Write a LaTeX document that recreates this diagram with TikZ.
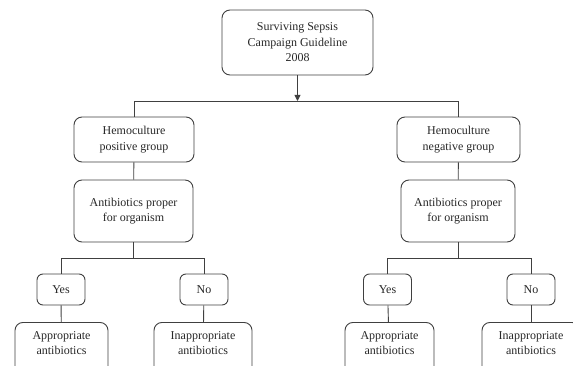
\documentclass[tikz,border=0pt]{standalone}
\usepackage{fontspec}
\setmainfont{Liberation Serif}
\usetikzlibrary{arrows.meta,positioning}
\definecolor{SSline}{RGB}{64,64,64}
\definecolor{SStext}{RGB}{40,40,40}
\tikzset{
  box/.style={rounded corners=8pt,draw=SSline,line width=0.9pt,fill=white,
              text=SStext,align=center,inner sep=0pt,
              font=\fontsize{12}{15.5}\selectfont},
  choice/.style={box,rounded corners=6pt,minimum width=48pt,minimum height=31pt},
  result/.style={box,anchor=north,minimum height=0pt,inner ysep=9pt,
                 text depth=30pt},
  ln/.style={line width=0.9pt,draw=SSline},
  arr/.style={-{Triangle[length=6pt,width=6pt]},line width=0.9pt,draw=SSline}
}

\begin{document}
\begin{tikzpicture}[x=1pt,y=-1pt]
  \useasboundingbox (0,0) rectangle (573,366);
  \clip (0,0) rectangle (573,366);
  % top
  \node[box,minimum width=151pt,minimum height=65pt] (ssc) at (297.5,42.5)
    {Surviving Sepsis\\Campaign Guideline\\2008};
  \coordinate (split) at (297.5,101);
  % two groups
  \node[box,minimum width=120pt,minimum height=45pt] (posgrp) at (134,139.5)
    {Hemoculture\\positive group};
  \node[box,minimum width=123pt,minimum height=45pt] (neggrp) at (458.5,139.5)
    {Hemoculture\\negative group};
  \node[box,minimum width=119pt,minimum height=62pt] (posab) at (133.5,211)
    {Antibiotics proper\\for organism};
  \node[box,minimum width=114pt,minimum height=62pt] (negab) at (458,211)
    {Antibiotics proper\\for organism};
  \coordinate (possplit) at (133.5,258);
  \coordinate (negsplit) at (458,258);
  % answers
  \node[choice] (posyes) at (61,289.5) {Yes};
  \node[choice] (posno) at (204,289.5) {No};
  \node[choice] (negyes) at (387.5,289.5) {Yes};
  \node[choice] (negno) at (531,289.5) {No};
  \node[result,minimum width=93pt] (posapp) at (61.5,322) {Appropriate\\antibiotics};
  \node[result,minimum width=98pt] (posinapp) at (203,322) {Inappropriate\\antibiotics};
  \node[result,minimum width=89pt] (negapp) at (389.5,322) {Appropriate\\antibiotics};
  \node[result,minimum width=98pt] (neginapp) at (531,322) {Inappropriate\\antibiotics};
  % connectors
  \draw[arr] (ssc) -- (split);
  \draw[ln] (posgrp.north) -- (posgrp.north |- split) -- (neggrp.north |- split) -- (neggrp.north);
  \draw[ln] (posgrp) -- (posab);
  \draw[ln] (neggrp) -- (negab);
  \draw[ln] (posab) -- (possplit);
  \draw[ln] (negab) -- (negsplit);
  \draw[ln] (posyes.north) -- (posyes.north |- possplit) -- (posno.north |- possplit) -- (posno.north);
  \draw[ln] (negyes.north) -- (negyes.north |- negsplit) -- (negno.north |- negsplit) -- (negno.north);
  \draw[ln] (posyes) -- (posapp);
  \draw[ln] (posno) -- (posinapp);
  \draw[ln] (negyes) -- (negapp);
  \draw[ln] (negno) -- (neginapp);
\end{tikzpicture}
\end{document}
